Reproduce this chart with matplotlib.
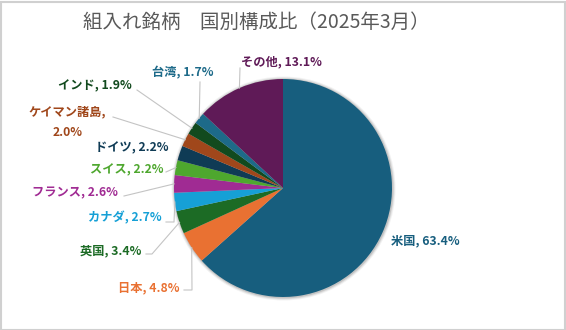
import numpy as np
import matplotlib
matplotlib.use('Agg')
import matplotlib.pyplot as plt
from matplotlib.patches import Rectangle, Circle

plt.rcParams['font.family'] = ['Noto Sans CJK JP', 'DejaVu Sans']

# データ（時計回り、12時の位置から）
KUNI = ['米国', '日本', '英国', 'カナダ', 'フランス', 'スイス', 'ドイツ',
        'ケイマン諸島', 'インド', '台湾', 'その他']
HIRITSU = [63.4, 4.8, 3.4, 2.7, 2.6, 2.2, 2.2, 2.0, 1.9, 1.7, 13.1]
IRO = ['#175e7e', '#e97132', '#1c6b25', '#16a0d6', '#a02b93', '#4ea72e',
       '#0f3b55', '#a0471b', '#124a1e', '#1d6a89', '#5f1a57']
TITLE = '組入れ銘柄\u3000国別構成比（2025年3月）'

W, H = 566, 330
CX, CY, R = 283, 188, 109  # 画素座標（上から）
FS = 8.8

# ラベル位置（画素、左端・中心y）と引き出し線の始点
LABEL_POS = {
    '米国': (391, 241), '日本': (118, 288), '英国': (80, 251),
    'カナダ': (88, 218), 'フランス': (32, 193), 'スイス': (90, 170),
    'ドイツ': (95, 148), 'ケイマン諸島': (28, 112), 'インド': (58, 86),
    '台湾': (152, 73), 'その他': (241, 62),
}
LINE_START = {
    '日本': [(184, 290), (192, 290)], '英国': [(146, 254), (152, 254)],
    'カナダ': [(166, 222), (174, 222)], 'フランス': [(124, 196)],
    'スイス': [(166, 172)], 'ケイマン諸島': [(113, 117)],
    'インド': [(137, 90)], '台湾': [(200, 82)], 'その他': [(240, 68)],
}


def py(y):
    return H - y


fig = plt.figure(figsize=(W / 100, H / 100), dpi=100)
ax = fig.add_axes([0, 0, 1, 1])

# うすい影
for dr, a in [(3, 0.05), (2, 0.08), (1, 0.12)]:
    ax.add_patch(Circle((CX + 0.5, py(CY) - 0.5), R + dr, color='black',
                        alpha=a, lw=0, zorder=0))

ax.pie(HIRITSU, colors=IRO, startangle=90, counterclock=False,
       center=(CX, py(CY)), radius=R, wedgeprops=dict(linewidth=0))
ax.set_xlim(0, W)
ax.set_ylim(0, H)
ax.set_aspect('equal')
ax.axis('off')

# 引き出し線
total = sum(HIRITSU)
cum = np.cumsum([0] + HIRITSU)
for i, k in enumerate(KUNI):
    if k not in LINE_START:
        continue
    mid = 90 - (cum[i] + HIRITSU[i] / 2) / total * 360
    rx = CX + R * np.cos(np.radians(mid))
    ry = CY - R * np.sin(np.radians(mid))
    pts = LINE_START[k] + [(rx, ry)]
    ax.plot([p[0] for p in pts], [py(p[1]) for p in pts],
            color='#c4c4c4', lw=0.8, zorder=1)

# ラベル
for i, k in enumerate(KUNI):
    x, y = LABEL_POS[k]
    if k == 'ケイマン諸島':
        ax.text(x, py(y), 'ケイマン諸島,', color=IRO[i], fontsize=FS,
                fontweight='bold', ha='left', va='center')
        ax.text(53, py(133), f'{HIRITSU[i]:.1f}%', color=IRO[i],
                fontsize=FS, fontweight='bold', ha='left', va='center')
        continue
    ax.text(x, py(y), f'{k}, {HIRITSU[i]:.1f}%', color=IRO[i],
            fontsize=FS, fontweight='bold', ha='left', va='center')

ax.text(256, py(22), TITLE, color='#595959', fontsize=14,
        ha='center', va='center')

fig.patches.append(Rectangle((0.5 / W, 0.5 / H), 1 - 1.5 / W, 1 - 2.5 / H,
                             transform=fig.transFigure, fill=False,
                             edgecolor='#d0d0d0', lw=1.5))

fig.savefig('out.png', dpi=100, facecolor='white')
